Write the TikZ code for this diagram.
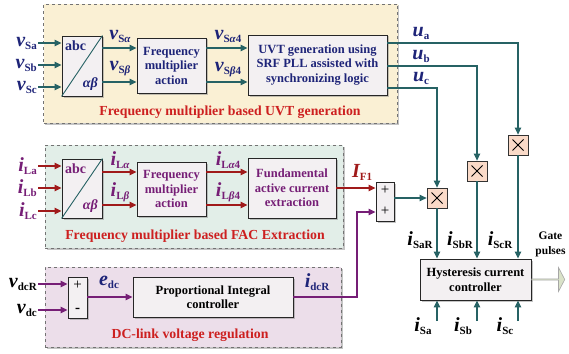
\documentclass[tikz,border=0pt]{standalone}
\usepackage{fontspec}
\setmainfont{Liberation Serif}
\usetikzlibrary{shadows,arrows.meta,shapes.arrows,calc}
\definecolor{tealc}{RGB}{38,98,100}
\definecolor{redc}{RGB}{160,26,26}
\definecolor{purc}{RGB}{118,30,118}
\definecolor{navyc}{RGB}{30,36,120}
\definecolor{titlec}{RGB}{205,32,32}
\definecolor{secAc}{RGB}{250,240,212}
\definecolor{secBc}{RGB}{226,238,232}
\definecolor{secCc}{RGB}{236,222,234}
\definecolor{boxc}{RGB}{243,240,242}
\definecolor{mulc}{RGB}{250,218,200}
\definecolor{gpc}{RGB}{218,226,200}
\newcommand\lbl[2]{{\fontsize{20}{20}\selectfont\bfseries\itshape #1}\raisebox{-3pt}{\fontsize{11}{11}\selectfont\bfseries #2}}
\newcommand\gr[1]{{\itshape #1}}
\begin{document}
\begin{tikzpicture}[x=1pt,y=-1pt,
  secbox/.style={draw=black!55, dashed, line width=0.8pt, drop shadow={shadow xshift=1.5pt,shadow yshift=-1.5pt,fill=black!45}},
  blk/.style={draw=black!85, line width=0.9pt, fill=boxc, align=center, inner sep=1pt,
     font=\fontsize{12.5}{14.5}\selectfont\bfseries, drop shadow={shadow xshift=1.5pt,shadow yshift=-1.5pt,fill=black!45}},
  mul/.style={draw=black!80, line width=0.8pt, fill=mulc, minimum width=20, minimum height=20, inner sep=0,
     drop shadow={shadow xshift=1.2pt,shadow yshift=-1.2pt,fill=black!40},
     path picture={\draw[line width=1pt,black] ([shift={(4.5pt,4.5pt)}]path picture bounding box.south west) -- ([shift={(-4.5pt,-4.5pt)}]path picture bounding box.north east);
                   \draw[line width=1pt,black] ([shift={(4.5pt,-4.5pt)}]path picture bounding box.north west) -- ([shift={(-4.5pt,4.5pt)}]path picture bounding box.south east);}},
  ta/.style={draw=tealc, line width=1.1pt, -{Triangle[length=7pt,width=6.5pt]}},
  ra/.style={draw=redc, line width=1.1pt, -{Triangle[length=7pt,width=6.5pt]}},
  pa/.style={draw=purc, line width=1.1pt, -{Triangle[length=7pt,width=6.5pt]}},
  lab/.style={inner sep=1pt},
  title/.style={font=\fontsize{13.8}{16}\selectfont\bfseries, text=titlec}
]
\useasboundingbox (0,0) rectangle (569,353);
% sections
\node[secbox, fill=secAc, minimum width=354, minimum height=119] (secA) at (220.5,63.5) {};
\node[secbox, fill=secBc, minimum width=298, minimum height=103] (secB) at (194,196.5) {};
\node[secbox, fill=secCc, minimum width=296, minimum height=80] (secC) at (193,307) {};
\node[title] (tA) at (230,112) {Frequency multiplier based UVT generation};
\node[title] (tB) at (195,236) {Frequency multiplier based FAC Extraction};
\node[title] (tC) at (190,335) {DC-link voltage regulation};

% row coordinates
\coordinate (ya1) at (0,48);
\coordinate (ya2) at (0,82);
\coordinate (yb1) at (0,172);
\coordinate (yb2) at (0,205);
\coordinate (yua) at (0,43);
\coordinate (yub) at (0,66);
\coordinate (yuc) at (0,88);

% ---------- top section ----------
\node[blk, minimum width=40, minimum height=60] (abA) at (82,66) {};
\draw[tealc, line width=0.9pt] (abA.south west) -- (abA.north east);
\node[font=\fontsize{14}{14}\selectfont\bfseries, text=navyc] (abAt) at ($(abA.north west)+(14,10)$) {abc};
\node[font=\fontsize{14}{14}\selectfont\bfseries\itshape, text=navyc] (abAb) at ($(abA.south east)+(-12,-12)$) {αβ};
\node[blk, text=navyc, minimum width=69, minimum height=55] (fmA) at (171.5,65.5) {Frequency\\multiplier\\action};
\node[blk, text=navyc, minimum width=139, minimum height=60] (uvt) at (317.5,65) {UVT generation using\\SRF PLL assisted with\\synchronizing logic};

\node[lab, anchor=east, text=navyc] (vsa) at (38,43) {\lbl{v}{Sa}};
\node[lab, anchor=east, text=navyc] (vsb) at (38,65) {\lbl{v}{Sb}};
\node[lab, anchor=east, text=navyc] (vsc) at (38,87) {\lbl{v}{Sc}};
\draw[ta] (vsa.east) -- (vsa.east -| abA.west);
\draw[ta] (vsb.east) -- (vsb.east -| abA.west);
\draw[ta] (vsc.east) -- (vsc.east -| abA.west);

\draw[ta] (abA.east |- ya1) -- (fmA.west |- ya1);
\draw[ta] (abA.east |- ya2) -- (fmA.west |- ya2);
\node[lab, text=navyc] (lsal) at (120,36) {\lbl{v}{S\gr{α}}};
\node[lab, text=navyc] (lsbe) at (120,69) {\lbl{v}{S\gr{β}}};
\draw[ta] (fmA.east |- ya1) -- (uvt.west |- ya1);
\draw[ta] (fmA.east |- ya2) -- (uvt.west |- ya2);
\node[lab, text=navyc] (lsal4) at (228,36) {\lbl{v}{S\gr{α}4}};
\node[lab, text=navyc] (lsbe4) at (228,70) {\lbl{v}{S\gr{β}4}};

% multipliers
\node[mul] (xa) at (518,145) {};
\node[mul] (xb) at (477,171) {};
\node[mul] (xc) at (437,198) {};
\draw[ta] (uvt.east |- yua) -| (xa.north);
\draw[ta] (uvt.east |- yub) -| (xb.north);
\draw[ta] (uvt.east |- yuc) -| (xc.north);
\node[lab, text=navyc] (lua) at (421,33) {\lbl{u}{a}};
\node[lab, text=navyc] (lub) at (421,56) {\lbl{u}{b}};
\node[lab, text=navyc] (luc) at (421,78) {\lbl{u}{c}};

% ---------- middle section ----------
\node[blk, minimum width=40, minimum height=59] (abB) at (82,188.5) {};
\draw[tealc, line width=0.9pt] (abB.south west) -- (abB.north east);
\node[font=\fontsize{14}{14}\selectfont\bfseries, text=purc] (abBt) at ($(abB.north west)+(14,10)$) {abc};
\node[font=\fontsize{14}{14}\selectfont\bfseries\itshape, text=purc] (abBb) at ($(abB.south east)+(-12,-12)$) {αβ};
\node[blk, text=purc, minimum width=69, minimum height=54] (fmB) at (171.5,189) {Frequency\\multiplier\\action};
\node[blk, text=purc, minimum width=88, minimum height=60] (fac) at (292,188) {Fundamental\\active current\\extraction};

\node[lab, anchor=east, text=purc] (ila) at (38,166) {\lbl{i}{La}};
\node[lab, anchor=east, text=purc] (ilb) at (38,188) {\lbl{i}{Lb}};
\node[lab, anchor=east, text=purc] (ilc) at (38,211) {\lbl{i}{Lc}};
\draw[ra] (ila.east) -- (ila.east -| abB.west);
\draw[ra] (ilb.east) -- (ilb.east -| abB.west);
\draw[ra] (ilc.east) -- (ilc.east -| abB.west);

\draw[ra] (abB.east |- yb1) -- (fmB.west |- yb1);
\draw[ra] (abB.east |- yb2) -- (fmB.west |- yb2);
\node[lab, text=purc] (lial) at (120,160) {\lbl{i}{L\gr{α}}};
\node[lab, text=purc] (libe) at (120,192) {\lbl{i}{L\gr{β}}};
\draw[ra] (fmB.east |- yb1) -- (fac.west |- yb1);
\draw[ra] (fmB.east |- yb2) -- (fac.west |- yb2);
\node[lab, text=purc] (lial4) at (228,160) {\lbl{i}{L\gr{α}4}};
\node[lab, text=purc] (libe4) at (228,192) {\lbl{i}{L\gr{β}4}};

\node[blk, minimum width=18, minimum height=39, inner sep=0] (sum1) at (385,201.5) {};
\node[font=\fontsize{15}{15}\selectfont] (p1) at (385,190.5) {+};
\node[font=\fontsize{15}{15}\selectfont] (p2) at (385,211.5) {+};
\draw[ra] (fac.east) -- (fac.east -| sum1.west);
\node[lab, text=redc] (lif) at (362,172) {\lbl{I}{F1}};
\draw[ta] (sum1.east |- xc.west) -- (xc.west);

% ---------- bottom section ----------
\node[blk, minimum width=19, minimum height=41, inner sep=0] (sum2) at (77.5,297.5) {};
\node[font=\fontsize{15}{15}\selectfont] (p3) at (77.5,285) {+};
\node[font=\fontsize{15}{15}\selectfont\bfseries] (p4) at (77.5,310) {-};
\node[blk, minimum width=160, minimum height=40] (pi) at (213,297) {Proportional Integral\\controller};
\node[lab, anchor=east, text=black] (vdcr) at (38,284) {\lbl{v}{dcR}};
\node[lab, anchor=east, text=black] (vdc) at (38,310) {\lbl{v}{dc}};
\draw[pa] (vdcr.east) -- (vdcr.east -| sum2.west);
\draw[pa] (vdc.east) -- (vdc.east -| sum2.west);
\draw[pa] (sum2.east |- pi.west) -- (pi.west);
\node[lab, text=navyc] (ledc) at (109,282) {\lbl{e}{dc}};
\coordinate (turn) at (357,212);
\draw[pa] (pi.east) -| (turn) -- (turn -| sum1.west);
\node[lab, text=navyc] (lidcr) at (317,282) {\lbl{i}{dcR}};

% ---------- hysteresis ----------
\node[blk, minimum width=111, minimum height=41] (hcc) at (475.5,279.5) {Hysteresis current\\controller};
\draw[ta] (xc.south) -- (xc.south |- hcc.north);
\draw[ta] (xb.south) -- (xb.south |- hcc.north);
\draw[ta] (xa.south) -- (xa.south |- hcc.north);
\node[lab] (lsar) at (420,240) {\lbl{i}{SaR}};
\node[lab] (lsbr) at (460,240) {\lbl{i}{SbR}};
\node[lab] (lscr) at (500,240) {\lbl{i}{ScR}};
\coordinate (ba) at (437,321);
\coordinate (bb) at (477,321);
\coordinate (bc) at (518,321);
\draw[ta] (ba) -- (ba |- hcc.south);
\draw[ta] (bb) -- (bb |- hcc.south);
\draw[ta] (bc) -- (bc |- hcc.south);
\node[lab] (lsa) at (423,326) {\lbl{i}{Sa}};
\node[lab] (lsb) at (463,326) {\lbl{i}{Sb}};
\node[lab] (lsc) at (505,326) {\lbl{i}{Sc}};
\node[single arrow, draw=black!35, fill=gpc, line width=0.6pt, minimum height=33, minimum width=24,
      single arrow head extend=6pt, single arrow tip angle=125, inner sep=0, anchor=tail] (gp) at (hcc.east) {};
\node[font=\fontsize{11.5}{14.5}\selectfont\bfseries, align=center, inner sep=0] (gpl) at (550.5,244.5) {Gate\\pulses};
\end{tikzpicture}
\end{document}
